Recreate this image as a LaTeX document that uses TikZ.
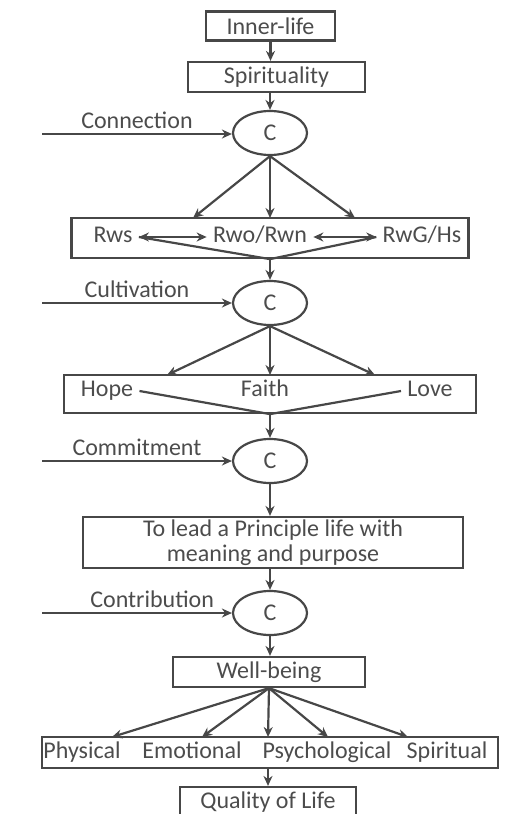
\documentclass[tikz,border=0pt]{standalone}
\usepackage{fontspec}
\setmainfont{Carlito}
\usetikzlibrary{arrows.meta,shapes}
\definecolor{linegray}{gray}{0.28}
\definecolor{textgray}{gray}{0.3}

\begin{document}
\begin{tikzpicture}[x=0.5pt,y=-0.5pt,
    font=\fontsize{12}{12.5}\selectfont,
    box/.style={draw=linegray,line width=1.1pt,inner sep=0pt,text=textgray,align=center},
    cnode/.style={draw=linegray,line width=1.1pt,ellipse,minimum width=37pt,minimum height=22pt,inner sep=0pt,text=textgray},
    word/.style={text=textgray,inner sep=3pt,text height=1.6ex,text depth=0.45ex},
    lbl/.style={text=textgray,above,inner sep=0.3pt,text height=1.6ex,text depth=0.45ex},
    arr/.style={draw=linegray,line width=1.1pt,-{Stealth[length=5pt,width=4.5pt]}},
    darr/.style={draw=linegray,line width=1.1pt,{Stealth[length=5pt,width=4.5pt]}-{Stealth[length=5pt,width=4.5pt]}},
    ln/.style={draw=linegray,line width=1.1pt}]

      \useasboundingbox (0,0) rectangle (511,814);

      % inner-life and spirituality
      \node[box,minimum width=64.5pt,minimum height=14.5pt] (inner) at (270.5,26) {Inner-life};
      \node[box,minimum width=88.5pt,minimum height=15pt] (spirit) at (276.5,77) {Spirituality};
      \draw[arr] (inner.south) -- (inner.south |- spirit.north);

      % connection
      \node[cnode] (c1) at (270,133) {C};
      \coordinate (in1) at (42,134);
      \draw[arr] (c1.north |- spirit.south) -- (c1.north);
      \draw[arr] (in1) -- node[lbl] (lconn) {Connection} (in1 -| c1.west);

      % relationships
      \node[box,minimum width=198.5pt,minimum height=20pt] (relbox) at (270,238) {};
      \node[word] (rws) at (113,237) {Rws};
      \node[word] (rwo) at (260,237) {Rwo/Rwn};
      \node[word] (rwg) at (422,237) {RwG/Hs};
      \coordinate (r1) at (193,218);
      \coordinate (r2) at (270,218);
      \coordinate (r3) at (355,218);
      \foreach \t in {r1,r2,r3}
        \draw[arr] (c1.south) -- (\t);
      \draw[darr] (rws) -- (rwo);
      \draw[darr] (rwo) -- (rwg);
      \draw[ln] (rws.east) -- (relbox.south) -- (rwg.west);

      % cultivation
      \node[cnode] (c2) at (270,303) {C};
      \coordinate (in2) at (42,303);
      \draw[arr] (relbox.south) -- (c2.north);
      \draw[arr] (in2) -- node[lbl] (lcult) {Cultivation} (c2.west);

      % hope, faith, love
      \node[box,minimum width=206pt,minimum height=19pt] (hfl) at (270,394) {};
      \node[word] (hope) at (107,391) {Hope};
      \node[word] (faith) at (265,391) {Faith};
      \node[word] (love) at (430,391) {Love};
      \coordinate (h1) at (167,375);
      \coordinate (h2) at (270,375);
      \coordinate (h3) at (375,375);
      \foreach \t in {h1,h2,h3}
        \draw[arr] (c2.south) -- (\t);
      \draw[ln] (hope.east) -- (hfl.south) -- (love.west);

      % commitment
      \node[cnode] (c3) at (270,461) {C};
      \coordinate (in3) at (42,461);
      \draw[arr] (hfl.south) -- (c3.north);
      \draw[arr] (in3) -- node[lbl] (lcomm) {Commitment} (c3.west);

      % principle life
      \node[box,minimum width=190pt,minimum height=25.5pt] (lead) at (273,542.5)
        {To lead a Principle life with\\meaning and purpose};
      \draw[arr] (c3.south) -- (c3.south |- lead.north);

      % contribution
      \node[cnode] (c4) at (270,613) {C};
      \coordinate (in4) at (42,613);
      \draw[arr] (c4.north |- lead.south) -- (c4.north);
      \draw[arr] (in4) -- node[lbl,pos=0.58] (lcontr) {Contribution} (c4.west);

      % well-being
      \node[box,minimum width=96pt,minimum height=15pt] (well) at (269,672) {Well-being};
      \draw[arr] (c4.south) -- (c4.south |- well.north);

      % dimensions
      \node[box,minimum width=228pt,minimum height=15.5pt] (dims) at (270,752.5) {};
      \node[word] (phys) at (82,753) {Physical};
      \node[word] (emo) at (192,753) {Emotional};
      \node[word] (psych) at (327,753) {Psychological};
      \node[word] (spir) at (447,753) {Spiritual};
      \foreach \x [count=\i] in {112,202,268,328,408}
        \coordinate (w\i) at (\x,737);
      \foreach \i in {1,...,5}
        \draw[arr] (well.south) -- (w\i);

      % quality of life
      \node[box,minimum width=88pt,minimum height=15.5pt] (qol) at (268,802.5) {Quality of Life};
      \draw[arr] (dims.south -| qol.north) -- (qol.north);

\end{tikzpicture}
\end{document}
